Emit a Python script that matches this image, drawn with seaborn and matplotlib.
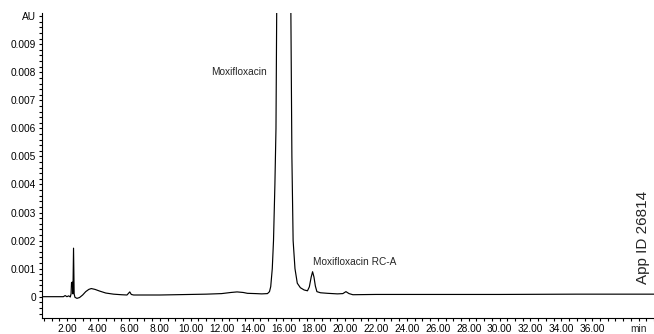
import matplotlib
matplotlib.use("Agg")
import matplotlib.pyplot as plt
from matplotlib.ticker import MultipleLocator, FixedLocator
import seaborn as sns
import pandas as pd

# Chromatogram trace (time in min, absorbance in AU)
time_min = [0.3, 1.0, 1.75, 1.87, 1.98, 2.1, 2.2, 2.25, 2.28, 2.33, 2.37, 2.41, 2.45,
            2.5, 2.63, 2.8, 3.0, 3.2, 3.4, 3.56, 3.8, 4.1, 4.5, 5.0, 5.5, 5.87,
            5.97, 6.05, 6.15, 6.3, 7.0, 8.0, 9.0, 10.0, 11.0, 12.0, 12.6, 13.0,
            13.4, 13.67, 14.2, 14.6, 14.97, 15.1, 15.18, 15.28, 15.36, 15.45,
            15.52, 15.57, 15.65, 16.0, 16.4, 16.48, 16.55, 16.63, 16.75, 16.9,
            17.1, 17.34, 17.56, 17.68, 17.8, 17.89, 17.98, 18.07, 18.17, 18.4,
            18.86, 19.5, 19.85, 20.05, 20.25, 20.5, 22.0, 25.0, 30.0, 35.0, 40.0]
absorbance = [0.0, 0.0, 0.0, 0.00004, 0.0, 0.00003, -0.00001, 0.0001, 0.0005, 0.00052,
              0.0001, 0.00173, 0.0001, -0.00002, -0.00006, -0.00003, 0.00006, 0.00018,
              0.00026, 0.00029, 0.00026, 0.0002, 0.00013, 0.00009, 0.00007, 0.00006,
              0.00012, 0.00017, 0.00008, 0.00006, 0.00006, 0.00006, 0.00007, 0.00008,
              0.00009, 0.00011, 0.00015, 0.00017, 0.00015, 0.00012, 0.00011, 0.0001,
              0.00011, 0.00018, 0.00036, 0.001, 0.002, 0.004, 0.006, 0.0105, 0.02,
              0.08, 0.02, 0.0105, 0.005, 0.002, 0.001, 0.00048, 0.00032, 0.00024,
              0.00021, 0.00035, 0.0007, 0.00089, 0.0007, 0.00038, 0.00018, 0.00014,
              0.00012, 0.0001, 0.00011, 0.00018, 0.00011, 0.00007, 0.00008, 0.00008,
              0.00008, 0.00009, 0.00009]

x_ticks = [2, 4, 6, 8, 10, 12, 14, 16, 18, 20, 22, 24, 26, 28, 30, 32, 34, 36]
x_tick_labels = [f"{v:.2f}" for v in x_ticks]
x_unit_pos = 39.0
x_unit_label = "min"
y_ticks = [0, 0.001, 0.002, 0.003, 0.004, 0.005, 0.006, 0.007, 0.008, 0.009, 0.010]
y_tick_labels = ["0", "0.001", "0.002", "0.003", "0.004", "0.005", "0.006",
                 "0.007", "0.008", "0.009", "AU"]

peak_labels = ["Moxifloxacin", "Moxifloxacin RC-A"]
peak_label_x = [14.95, 17.93]
peak_label_y = [0.0080, 0.00122]

sns.set_theme(style="white")
plt.rcParams["font.family"] = ["Liberation Sans", "DejaVu Sans"]

df = pd.DataFrame({"t": time_min, "au": absorbance})

fig = plt.figure(figsize=(6.54, 3.34), dpi=100)
ax = fig.add_axes([0.0638, 0.0479, 0.9362, 0.912])
sns.lineplot(data=df, x="t", y="au", ax=ax, color="black", linewidth=0.85,
             sort=False, estimator=None)

ax.set_xlim(0.35, 40.0)
ax.set_ylim(-0.00076, 0.0101)

ax.xaxis.set_major_locator(FixedLocator(x_ticks))
ax.set_xticklabels(x_tick_labels)
ax.xaxis.set_minor_locator(MultipleLocator(0.5))
ax.yaxis.set_major_locator(FixedLocator(y_ticks))
ax.set_yticklabels(y_tick_labels)
ax.yaxis.set_minor_locator(MultipleLocator(0.0002))

ax.tick_params(axis="both", which="both", direction="out", color="black",
               labelsize=7.3, labelcolor="black", width=0.8)
ax.tick_params(axis="both", which="major", length=2.5, pad=1.5)
ax.tick_params(axis="both", which="minor", length=2)
ax.tick_params(axis="x", which="both", bottom=True)
ax.tick_params(axis="y", which="both", left=True)

for side in ["top", "right"]:
    ax.spines[side].set_visible(False)
for side in ["left", "bottom"]:
    ax.spines[side].set_color("black")
    ax.spines[side].set_linewidth(0.8)

ax.set_xlabel("")
ax.set_ylabel("")

ax.annotate(x_unit_label, xy=(x_unit_pos, 0), xycoords=("data", "axes fraction"),
            xytext=(0, -4), textcoords="offset points", ha="center", va="top",
            fontsize=7.3, annotation_clip=False)

ax.text(peak_label_x[0], peak_label_y[0], peak_labels[0], ha="right", va="center",
        fontsize=7.3)
ax.text(peak_label_x[1], peak_label_y[1], peak_labels[1], ha="left", va="center",
        fontsize=7.3)

fig.text(643 / 654, 1 - 237 / 334, "App ID 26814", rotation=90, ha="center",
         va="center", fontsize=11)

fig.savefig("out.png", dpi=100)
